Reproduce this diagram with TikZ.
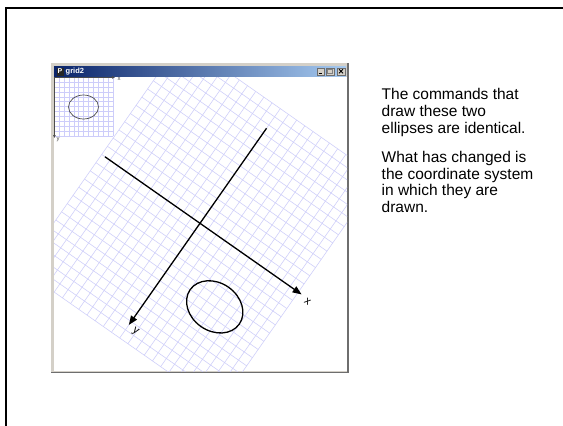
\documentclass[tikz,border=0pt]{standalone}
\usepackage{fontspec}
\setmainfont{Liberation Sans}
\usetikzlibrary{arrows.meta}
\definecolor{WinNavy}{RGB}{10,36,106}
\definecolor{WinSky}{RGB}{166,202,240}
\definecolor{WinFace}{RGB}{212,208,200}
\definecolor{WinShadow}{RGB}{110,110,110}
\definecolor{GridLav}{RGB}{205,205,250}

\begin{document}
\begin{tikzpicture}[x=1pt, y=-1pt,
          gridline/.style={GridLav, line width=0.55pt},
          axisline/.style={black, line width=1.3pt,
                           -{Triangle[length=9pt, width=7pt]}},
          axislabel/.style={font=\fontsize{11}{11}\selectfont,
                            rotate=-35, inner sep=0pt},
          winbtn/.style={draw=WinShadow, fill=WinFace, inner sep=0pt,
                         minimum width=7.5pt, minimum height=7pt}
        ]
        \useasboundingbox (0,0) rectangle (563,426);

        % Slide frame
        \draw[black, line width=2.5pt] (6,426) -- (6,8) -- (563,8);

        % Window frame and title bar
        \fill[WinFace] (51,63) rectangle (349,373);
        \draw[WinShadow, line width=1.5pt]
              (348,63) -- (348,372.5) -- (51,372.5);
        \shade[left color=WinNavy, right color=WinSky]
              (54,66) rectangle (346,77);
        \fill[white] (54,77) rectangle (347,371);
        \node[fill=black!85, text=white, inner sep=0.4pt,
              minimum width=7pt, minimum height=8pt,
              font=\bfseries\fontsize{7}{7}\selectfont] (icon)
              at (60,71.5) {P};
        \node[anchor=west, text=white, inner sep=0pt,
              font=\bfseries\fontsize{7.5}{7.5}\selectfont] (title)
              at (65.5,71.5) {grid2};

        % Window buttons
        \node[winbtn] (btnmin) at (320.5,71.3) {};
        \node[winbtn] (btnmax) at (330,71.3) {};
        \node[winbtn] (btnclose) at (341,71.3) {};
        \draw[black, line width=1pt]
              ([xshift=-2pt, yshift=-2pt]btnmin.center) --
              ([xshift=1pt, yshift=-2pt]btnmin.center);
        \draw[gray, line width=0.6pt]
              ([xshift=-2.3pt, yshift=-2.2pt]btnmax.center) rectangle
              ([xshift=2.3pt, yshift=2.2pt]btnmax.center);
        \draw[black, line width=0.9pt]
              ([xshift=-2pt, yshift=-2pt]btnclose.center) --
              ([xshift=2pt, yshift=2pt]btnclose.center)
              ([xshift=-2pt, yshift=2pt]btnclose.center) --
              ([xshift=2pt, yshift=-2pt]btnclose.center);

        % Rotated grid
        \begin{scope}
          \clip (54,77) rectangle (347,371);
          \begin{scope}[shift={(200,223.3)}, rotate=-35, scale=2]
            \foreach \u in {-60,-55,...,60}
              \draw[gridline] (\u,-70) -- (\u,70);
            \foreach \v in {-70,-65,...,70}
              \draw[gridline] (-60,\v) -- (60,\v);
          \end{scope}
        \end{scope}

        % Original grid
        \foreach \k in {0,...,12} {
          \draw[gridline] (54+4.95*\k,77) -- (54+4.95*\k,136.4);
          \draw[gridline] (54,77+4.95*\k) -- (113.4,77+4.95*\k);
        }
        \draw[black!70, line width=0.6pt,
              -{Triangle[length=3pt, width=2.5pt]}]
              (54,77.4) -- (115,77.4);
        \draw[black!70, line width=0.6pt,
              -{Triangle[length=3pt, width=2.5pt]}]
              (54.4,77) -- (54.4,138);
        \node[font=\fontsize{6}{6}\selectfont, text=black!70,
              inner sep=0pt] (smallx) at (119,78.5) {x};
        \node[font=\fontsize{6}{6}\selectfont, text=black!70,
              inner sep=0pt] (smally) at (58,140) {y};
        \draw[black!70, line width=0.7pt]
              (83.5,107) ellipse [x radius=15, y radius=12];

        % Transformed coordinate system
        \begin{scope}[shift={(200,223.3)}, rotate=-35, scale=2]
          \draw[axisline] (-58,0) -- (62,0);
          \draw[axisline] (0,-58) -- (0,62);
          \draw[black, line width=1.3pt]
                (30,30) ellipse [x radius=15, y radius=12];
          \node[axislabel] (bigx) at (66.5,1.3) {x};
          \node[axislabel] (bigy) at (4.7,63) {y};
        \end{scope}

        % Explanation
        \node[anchor=north west, align=left, inner sep=0pt,
              font=\fontsize{15.5}{16.7}\selectfont] (note)
              at (381.5,88.3)
              {The commands that\\draw these two\\ellipses are identical.\\[12.6pt]%
               What has changed is\\the coordinate system\\in which they are\\drawn.};
      \end{tikzpicture}
\end{document}
